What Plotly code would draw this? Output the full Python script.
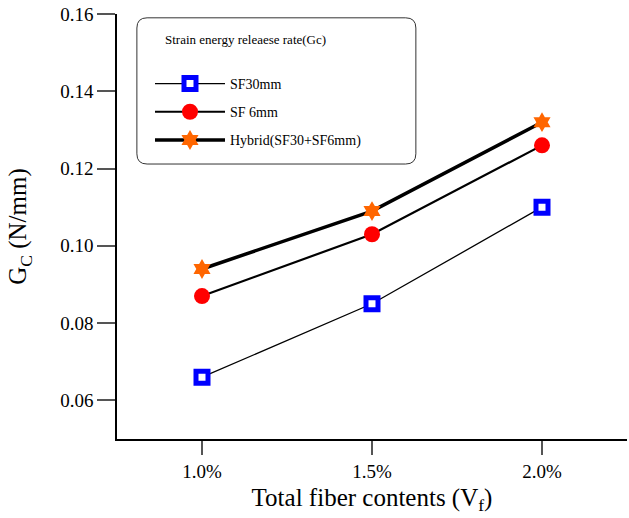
import plotly.graph_objects as go

x_vals = [1.0, 1.5, 2.0]
x_labels = ["1.0%", "1.5%", "2.0%"]
sf30 = [0.066, 0.085, 0.110]
sf6 = [0.087, 0.103, 0.126]
hybrid = [0.094, 0.109, 0.132]
y_ticks = [0.06, 0.08, 0.10, 0.12, 0.14, 0.16]
y_labels = ["0.06", "0.08", "0.10", "0.12", "0.14", "0.16"]

FONT = "Liberation Serif"

fig = go.Figure()
fig.add_trace(go.Scatter(
    x=x_vals, y=sf30, name="SF30mm", mode="lines+markers", legendgroup="a",
    line=dict(color="black", width=1.3),
    marker=dict(symbol="square", size=12, color="white", line=dict(color="#0000FF", width=5)),
))
fig.add_trace(go.Scatter(
    x=x_vals, y=sf6, name="SF 6mm", mode="lines+markers", legendgroup="b",
    line=dict(color="black", width=2.2),
    marker=dict(symbol="circle", size=16, color="#FF0000"),
))
fig.add_trace(go.Scatter(
    x=x_vals, y=hybrid, name="Hybrid(SF30+SF6mm)", mode="lines+markers", legendgroup="c",
    line=dict(color="black", width=3.5),
    marker=dict(symbol="hexagram", size=15, color="#FF6600"),
))

# rounded legend box (paper coords)
x0, x1, y0, y1 = 0.039, 0.586, 0.647, 0.991
rx, ry = 0.02, 0.024
path = (f"M {x0+rx},{y0} L {x1-rx},{y0} Q {x1},{y0} {x1},{y0+ry} "
        f"L {x1},{y1-ry} Q {x1},{y1} {x1-rx},{y1} L {x0+rx},{y1} "
        f"Q {x0},{y1} {x0},{y1-ry} L {x0},{y0+ry} Q {x0},{y0} {x0+rx},{y0} Z")

fig.update_layout(
    width=629, height=518,
    margin=dict(l=117, r=2, t=14, b=79),
    paper_bgcolor="white", plot_bgcolor="white",
    font=dict(family=FONT, color="black"),
    showlegend=True,
    legend=dict(
        x=0.0647, y=0.873, xanchor="left", yanchor="top",
        bgcolor="rgba(0,0,0,0)", borderwidth=0,
        font=dict(family=FONT, size=14, color="black"),
        traceorder="grouped", tracegroupgap=7, itemwidth=70,
    ),
    shapes=[dict(type="path", path=path, xref="paper", yref="paper",
                 line=dict(color="#333333", width=1), fillcolor="rgba(0,0,0,0)", layer="below")],
    annotations=[dict(text="Strain energy releaese rate(Gc)", xref="paper", yref="paper",
                      x=(163 - 117) / 510, y=(439 - 40) / 425, xanchor="left", yanchor="middle",
                      showarrow=False, font=dict(family=FONT, size=13, color="black"))],
    xaxis=dict(
        range=[0.75, 2.25], tickvals=x_vals, ticktext=x_labels, automargin=False,
        showline=True, linecolor="black", linewidth=1.5, mirror=False,
        ticks="outside", ticklen=14, tickwidth=1.5, tickcolor="#555555",
        showgrid=False, zeroline=False,
        tickfont=dict(family=FONT, size=19, color="black"),
        title=dict(text="Total fiber contents (V<sub>f</sub>)", font=dict(family=FONT, size=25, color="black"), standoff=8),
    ),
    yaxis=dict(
        range=[0.05, 0.16], tickvals=y_ticks, ticktext=y_labels, automargin=False,
        showline=True, linecolor="black", linewidth=1.5, mirror=False,
        ticks="outside", ticklen=18, tickwidth=1.5, tickcolor="#555555",
        showgrid=False, zeroline=False,
        tickfont=dict(family=FONT, size=19, color="black"),
        title=dict(text="G<sub>C</sub> (N/mm)", font=dict(family=FONT, size=25, color="black"), standoff=26),
    ),
)

fig.write_html("out.html", config={"displayModeBar": False},
               post_script="document.body.style.margin='0';")
